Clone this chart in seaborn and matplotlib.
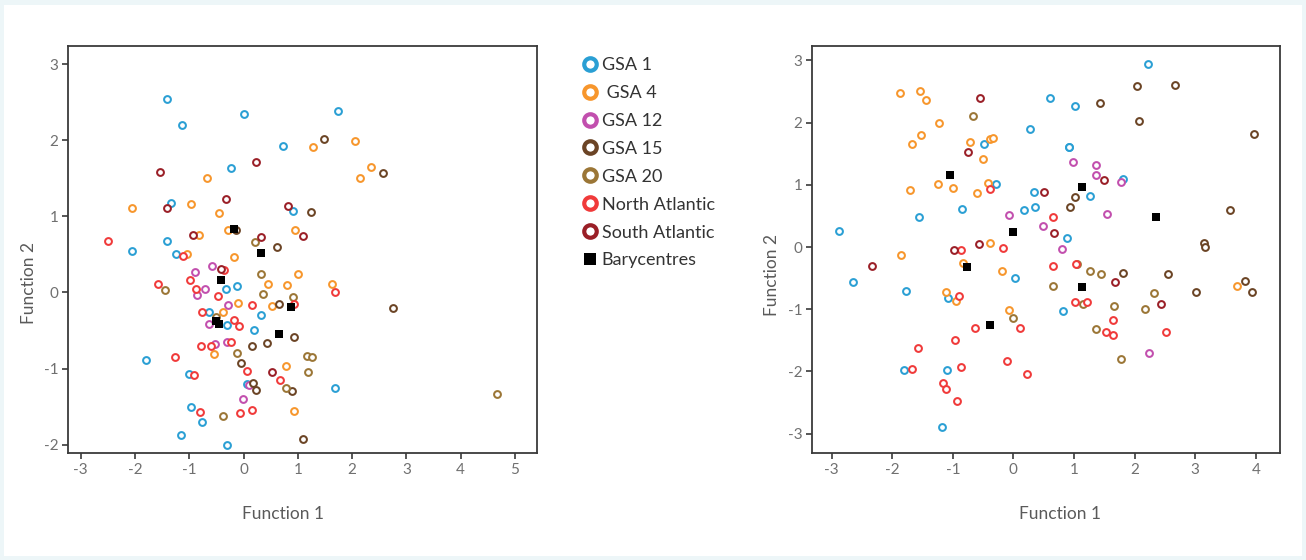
import matplotlib
matplotlib.use("Agg")
import matplotlib.pyplot as plt
from matplotlib.lines import Line2D
from matplotlib.patches import Rectangle
import seaborn as sns
import pandas as pd

# ---------------- data ----------------
groups = ["GSA 1", " GSA 4", "GSA 12", "GSA 15", "GSA 20", "North Atlantic", "South Atlantic"]
colors = ["#2a9fd4", "#f7962c", "#c24fae", "#6b4425", "#9b7636", "#f03a3a", "#9a1f27"]

# Left panel
left_gsa1_x = [-1.41, -1.13, 0.00, 0.73, -0.24, -1.34, 0.91, -1.41, -2.06, -1.24, -0.32, -0.12, -0.63, 0.32, -0.30, 0.19, -1.79, -1.00, 0.06, -0.97, -0.77, -1.15, -0.30, 1.74, 1.69]
left_gsa1_y = [2.54, 2.20, 2.34, 1.93, 1.63, 1.18, 1.07, 0.68, 0.55, 0.51, 0.04, 0.08, -0.26, -0.30, -0.43, -0.49, -0.89, -1.07, -1.20, -1.51, -1.70, -1.87, -2.01, 2.39, -1.25]
left_gsa4_x = [1.28, -0.67, -2.05, -0.97, -0.45, -0.83, -0.29, 0.95, -1.04, -0.18, 1.01, 0.45, 0.80, -0.11, 0.52, -0.38, -0.55, 0.79, 0.93, 2.06, 2.34, 2.15, 1.63]
left_gsa4_y = [1.91, 1.50, 1.11, 1.16, 1.04, 0.75, 0.82, 0.82, 0.50, 0.47, 0.24, 0.11, 0.10, -0.14, -0.18, -0.26, -0.81, -0.97, -1.56, 1.99, 1.65, 1.50, 0.11]
left_gsa12_x = [-0.58, -0.89, -0.71, -0.85, -0.28, -0.64, -0.52, -0.31, 0.10, -0.02]
left_gsa12_y = [0.35, 0.27, 0.05, -0.03, -0.16, -0.41, -0.68, -0.65, -1.21, -1.40]
left_gsa15_x = [-0.14, 0.62, 1.24, 1.48, 2.57, 0.65, 0.93, 0.15, 0.43, -0.05, 0.18, 0.22, 0.89, 1.09, 2.75]
left_gsa15_y = [0.82, 0.60, 1.06, 2.02, 1.57, -0.15, -0.58, -0.71, -0.66, -0.93, -1.19, -1.28, -1.29, -1.93, -0.21]
left_gsa20_x = [0.21, 0.32, -1.44, 0.35, 0.91, -0.50, -0.13, 1.17, 1.26, 1.18, 0.78, -0.38, 4.66]
left_gsa20_y = [0.67, 0.24, 0.03, -0.02, -0.06, -0.32, -0.80, -0.83, -0.85, -1.05, -1.25, -1.63, -1.33]
left_na_x = [-2.49, -1.11, -0.36, -1.58, -0.99, -0.88, -0.47, 0.16, 0.92, -0.77, -0.17, -0.08, -0.78, -0.61, -0.24, -1.26, 0.07, -0.91, 0.67, -0.81, -0.07, 0.15, 1.68]
left_na_y = [0.68, 0.48, 0.29, 0.11, 0.16, 0.04, -0.04, -0.16, -0.15, -0.26, -0.36, -0.44, -0.71, -0.71, -0.65, -0.85, -1.03, -1.09, -1.15, -1.57, -1.59, -1.54, 0.01]
left_sa_x = [0.23, -1.54, -1.42, -0.33, 0.81, -0.94, 1.10, 0.32, -0.42, 0.53]
left_sa_y = [1.71, 1.59, 1.11, 1.23, 1.14, 0.76, 0.74, 0.73, 0.31, -1.04]
left_bary_x = [-0.17, 0.32, -0.42, -0.46, 0.87, 0.65, -0.50]
left_bary_y = [0.83, 0.52, 0.17, -0.41, -0.19, -0.55, -0.37]

# Right panel
right_gsa1_x = [0.27, -0.48, -0.28, 0.34, 0.36, 0.17, -0.85, -1.56, -2.88, 0.03, -2.64, -1.78, -1.08, -1.81, -1.09, -1.18, 2.22, 0.60, 1.01, 0.92, 0.92, 1.81, 1.26, 0.88, 0.81]
right_gsa1_y = [1.90, 1.66, 1.02, 0.88, 0.65, 0.59, 0.61, 0.48, 0.25, -0.49, -0.57, -0.71, -0.82, -1.97, -1.97, -2.90, 2.94, 2.40, 2.27, 1.61, 1.60, 1.10, 0.82, 0.15, -1.03]
right_gsa4_x = [-1.87, -1.54, -1.44, -1.23, -1.53, -1.68, -0.72, -0.38, -0.34, -0.51, -1.24, -0.99, -1.70, -0.42, -0.60, -0.38, -1.85, -0.84, -0.19, -1.11, -0.95, -0.07, 3.69]
right_gsa4_y = [2.48, 2.50, 2.36, 1.99, 1.80, 1.66, 1.68, 1.74, 1.75, 1.41, 1.01, 0.95, 0.92, 1.03, 0.87, 0.06, -0.13, -0.25, -0.39, -0.73, -0.86, -1.01, -0.63]
right_gsa12_x = [-0.07, 0.99, 1.37, 1.36, 1.77, 0.49, 1.54, 0.80, 2.23]
right_gsa12_y = [0.51, 1.36, 1.32, 1.15, 1.04, 0.33, 0.53, -0.03, -1.71]
right_gsa15_x = [2.04, 2.66, 1.43, 2.07, 3.97, 1.02, 0.93, 3.58, 3.15, 3.17, 1.81, 2.55, 3.01, 3.83, 3.93]
right_gsa15_y = [2.59, 2.61, 2.31, 2.03, 1.81, 0.80, 0.64, 0.59, 0.06, 0.00, -0.41, -0.43, -0.73, -0.54, -0.73]
right_gsa20_x = [-0.66, -0.01, 1.05, 1.26, 1.44, 0.65, 1.15, 1.66, 2.32, 2.17, 1.37, 1.78]
right_gsa20_y = [2.10, -1.14, -0.27, -0.39, -0.44, -0.63, -0.91, -0.95, -0.74, -1.00, -1.31, -1.80]
right_na_x = [-0.39, -0.18, -0.86, -0.90, -0.64, 0.11, -1.58, -0.96, -0.10, -1.68, -0.87, 0.23, -1.17, -1.12, -0.93, 0.65, 0.65, 1.03, 1.01, 1.21, 1.64, 1.53, 1.65, 2.52]
right_na_y = [0.93, -0.02, -0.04, -0.78, -1.30, -1.30, -1.63, -1.50, -1.83, -1.96, -1.93, -2.04, -2.18, -2.28, -2.48, 0.48, -0.31, -0.27, -0.88, -0.89, -1.17, -1.37, -1.42, -1.37]
right_sa_x = [-0.56, -0.75, -0.57, -0.98, -2.33, 1.49, 0.50, 0.67, 1.68, 2.44]
right_sa_y = [2.39, 1.53, 0.05, -0.04, -0.31, 1.08, 0.88, 0.23, -0.56, -0.91]
right_bary_x = [-1.04, 0.00, -0.76, -0.38, 1.13, 2.36, 1.14]
right_bary_y = [1.15, 0.24, -0.32, -1.26, 0.96, 0.49, -0.65]

left_x_ticks = [-3, -2, -1, 0, 1, 2, 3, 4, 5]
left_y_ticks = [-2, -1, 0, 1, 2, 3]
right_x_ticks = [-3, -2, -1, 0, 1, 2, 3, 4]
right_y_ticks = [-3, -2, -1, 0, 1, 2, 3]

# ---------------- styling ----------------
sns.set_theme(style="white")
plt.rcParams["font.family"] = ["Lato", "DejaVu Sans"]
plt.rcParams["axes.unicode_minus"] = False

W, H = 1306, 560
fig = plt.figure(figsize=(W / 100, H / 100), dpi=100, facecolor="#edf6f8")
fig.patches.append(Rectangle((4 / W, 4 / H), (W - 8) / W, (H - 9) / H,
                             transform=fig.transFigure, facecolor="white",
                             edgecolor="none", zorder=-10))

def px_axes(x0, x1, y0, y1):
    return fig.add_axes([x0 / W, 1 - y1 / H, (x1 - x0) / W, (y1 - y0) / H])

axL = px_axes(68.3, 536.7, 46, 453)
axR = px_axes(812.3, 1280, 46, 453)

left_sets = [(left_gsa1_x, left_gsa1_y), (left_gsa4_x, left_gsa4_y), (left_gsa12_x, left_gsa12_y),
             (left_gsa15_x, left_gsa15_y), (left_gsa20_x, left_gsa20_y), (left_na_x, left_na_y),
             (left_sa_x, left_sa_y)]
right_sets = [(right_gsa1_x, right_gsa1_y), (right_gsa4_x, right_gsa4_y), (right_gsa12_x, right_gsa12_y),
              (right_gsa15_x, right_gsa15_y), (right_gsa20_x, right_gsa20_y), (right_na_x, right_na_y),
              (right_sa_x, right_sa_y)]

tick_col = "#707070"
label_col = "#5a5a5a"
spine_col = "#3a3a3a"

def draw(ax, sets, bx, by, xlim, ylim, xt, yt, xlab_pos, ylab_pos):
    ax.set_facecolor("white")
    for (xs, ys), g, c in zip(sets, groups, colors):
        df = pd.DataFrame({"x": xs, "y": ys})
        sns.scatterplot(data=df, x="x", y="y", ax=ax, color=c, marker="o", s=24,
                        facecolor="white", edgecolor=c, linewidth=1.45, legend=False, zorder=3)
    dfb = pd.DataFrame({"x": bx, "y": by})
    sns.scatterplot(data=dfb, x="x", y="y", ax=ax, color="black", marker="s", s=34,
                    linewidth=0, legend=False, zorder=4)
    ax.set_xlim(*xlim)
    ax.set_ylim(*ylim)
    ax.set_xticks(xt)
    ax.set_yticks(yt)
    ax.set_xticklabels([str(t) for t in xt])
    ax.set_yticklabels([str(t) for t in yt])
    for s in ax.spines.values():
        s.set_color(spine_col)
        s.set_linewidth(1.3)
    ax.tick_params(axis="both", which="major", length=4, width=1.2, color=spine_col,
                   labelcolor=tick_col, labelsize=11, pad=3, bottom=True, left=True)
    ax.set_xlabel("Function 1", fontsize=12.5, color=label_col)
    ax.set_ylabel("Function 2", fontsize=12.5, color=label_col)
    ax.xaxis.set_label_coords(*xlab_pos)
    ax.yaxis.set_label_coords(*ylab_pos)

draw(axL, left_sets, left_bary_x, left_bary_y, (-3.23, 5.40), (-2.11, 3.24),
     left_x_ticks, left_y_ticks, (0.458, -0.13), (-0.067, 0.418))
draw(axR, right_sets, right_bary_x, right_bary_y, (-3.32, 4.40), (-3.31, 3.23),
     right_x_ticks, right_y_ticks, (0.53, -0.13), (-0.069, 0.437))

handles = [Line2D([], [], linestyle="none", marker="o", markersize=9, markerfacecolor="white",
                  markeredgecolor=c, markeredgewidth=3.0) for c in colors]
handles.append(Line2D([], [], linestyle="none", marker="s", markersize=9,
                      markerfacecolor="black", markeredgewidth=0))
labels = groups + ["Barycentres"]
leg = fig.legend(handles, labels, loc="upper left", bbox_to_anchor=(582 / W, 1 - 57 / H),
                 frameon=False, handlelength=0.85, handletextpad=0.25,
                 borderpad=0, borderaxespad=0, labelspacing=0.66,
                 prop={"family": ["Lato", "DejaVu Sans"], "size": 13})
for t in leg.get_texts():
    t.set_color("#333333")

fig.savefig("out.png", dpi=100, facecolor=fig.get_facecolor())
